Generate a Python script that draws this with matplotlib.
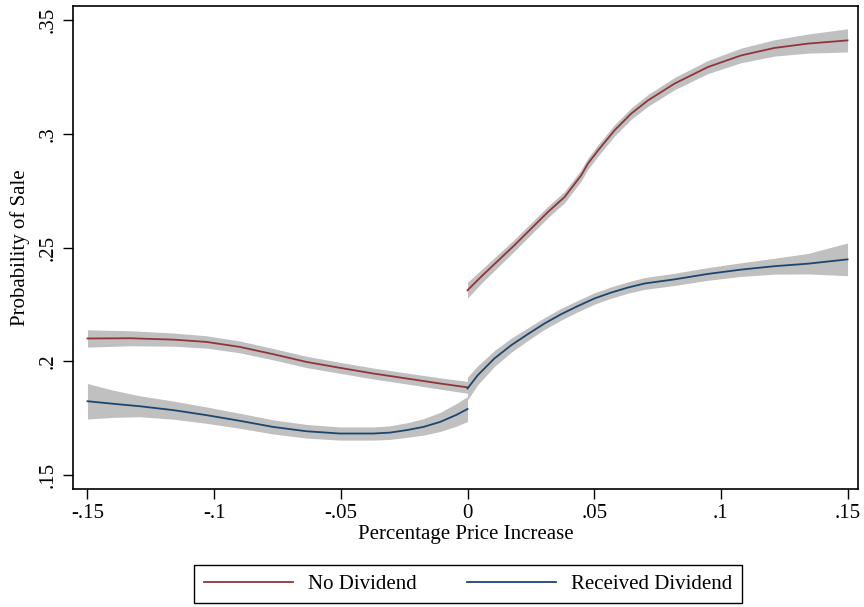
import matplotlib.pyplot as plt
import numpy as np

plt.rcParams['font.family'] = ['Liberation Serif', 'DejaVu Serif']

# Fitted probability of sale, split at zero price change
# ------------------------------------------------------
nodiv_left_x = [-0.15, -0.133, -0.1162, -0.1031, -0.0899, -0.0767, -0.0636,
                -0.0504, -0.0372, -0.0240, -0.0108, 0.0]
nodiv_left_y = [0.2100, 0.2101, 0.2095, 0.2085, 0.2063, 0.2031, 0.1997,
                0.1971, 0.1946, 0.1924, 0.1902, 0.1885]
nodiv_left_ci = [0.0038, 0.0033, 0.0029, 0.0027, 0.0026, 0.0025, 0.0025,
                 0.0024, 0.0024, 0.0024, 0.0025, 0.0026]

nodiv_right_x = [0.0, 0.0053, 0.0185, 0.0317, 0.0383, 0.0449, 0.0475, 0.0515,
                 0.0580, 0.0646, 0.0712, 0.0817, 0.0949, 0.108, 0.1212, 0.1344, 0.15]
nodiv_right_y = [0.2312, 0.2371, 0.2510, 0.2656, 0.2722, 0.2818, 0.2869, 0.2927,
                 0.3015, 0.3089, 0.3147, 0.3221, 0.3294, 0.3345, 0.3378, 0.3397, 0.3411]
nodiv_right_ci = [0.0035, 0.0030, 0.0026, 0.0025, 0.0025, 0.0025, 0.0025, 0.0025,
                  0.0025, 0.0025, 0.0026, 0.0027, 0.0029, 0.0032, 0.0036, 0.0042, 0.0051]

div_left_x = [-0.15, -0.14, -0.1294, -0.1162, -0.1031, -0.0899, -0.0767, -0.0636,
              -0.0504, -0.0372, -0.0306, -0.0240, -0.0174, -0.0108, -0.0042, 0.0]
div_left_y = [0.1824, 0.1813, 0.1802, 0.1785, 0.1763, 0.1738, 0.1711, 0.1692,
              0.1682, 0.1682, 0.1686, 0.1697, 0.1711, 0.1733, 0.1765, 0.1790]
div_left_ci = [0.0078, 0.0060, 0.0046, 0.0040, 0.0036, 0.0033, 0.0031, 0.0030,
               0.0029, 0.0029, 0.0030, 0.0032, 0.0036, 0.0042, 0.0050, 0.0055]

div_right_x = [0.0, 0.0040, 0.0106, 0.0172, 0.0238, 0.0304, 0.0370, 0.0436, 0.0501,
               0.0567, 0.0633, 0.0699, 0.0817, 0.0949, 0.108, 0.1212, 0.1344, 0.15]
div_right_y = [0.1880, 0.1938, 0.2012, 0.2070, 0.2119, 0.2166, 0.2207, 0.2243, 0.2276,
               0.2302, 0.2324, 0.2342, 0.2360, 0.2384, 0.2403, 0.2418, 0.2429, 0.2448]
div_right_ci = [0.0050, 0.0042, 0.0035, 0.0031, 0.0028, 0.0026, 0.0026, 0.0025, 0.0025,
                0.0025, 0.0025, 0.0026, 0.0027, 0.0028, 0.0030, 0.0035, 0.0045, 0.0072]

xticks = [-0.15, -0.1, -0.05, 0, 0.05, 0.1, 0.15]
xtick_labels = ['-.15', '-.1', '-.05', '0', '.05', '.1', '.15']
yticks = [0.15, 0.2, 0.25, 0.3, 0.35]
ytick_labels = ['.15', '.2', '.25', '.3', '.35']

red = '#90353b'
navy = '#1a476f'
band = '#c0c0c0'

fig = plt.figure(figsize=(8.64, 6.07), dpi=100)
ax = fig.add_axes([0.0845, 0.1944, 0.9085, 0.7956])


def draw(x, y, ci, color, label=None):
    x = np.array(x)
    y = np.array(y)
    ci = np.array(ci)
    ax.fill_between(x, y - ci, y + ci, color=band, lw=0, zorder=1)
    ax.plot(x, y, color=color, lw=1.3, zorder=2, label=label,
            solid_joinstyle='round')


draw(nodiv_left_x, nodiv_left_y, nodiv_left_ci, red, 'No Dividend')
draw(nodiv_right_x, nodiv_right_y, nodiv_right_ci, red)
draw(div_left_x, div_left_y, div_left_ci, navy, 'Received Dividend')
draw(div_right_x, div_right_y, div_right_ci, navy)

ax.set_xlim(-0.1557, 0.1541)
ax.set_ylim(0.1438, 0.3562)
ax.set_xticks(xticks)
ax.set_xticklabels(xtick_labels)
ax.set_yticks(yticks)
ax.set_yticklabels(ytick_labels, rotation=90, va='center')
ax.tick_params(direction='out', length=7, width=1, labelsize=15, pad=4)

for s in ax.spines.values():
    s.set_linewidth(1.2)

ax.set_xlabel('Percentage Price Increase', fontsize=15, labelpad=1)
ax.set_ylabel('Probability of Sale', fontsize=15, labelpad=6)

leg = fig.legend(loc='center', bbox_to_anchor=(468 / 864, 1 - 584 / 607), ncol=2,
                 fontsize=15, handlelength=4.3, handletextpad=0.7, columnspacing=2.4,
                 fancybox=False, framealpha=1, edgecolor='black', borderpad=0.45)
leg.get_frame().set_linewidth(1.0)

fig.savefig('out.png', dpi=100)
